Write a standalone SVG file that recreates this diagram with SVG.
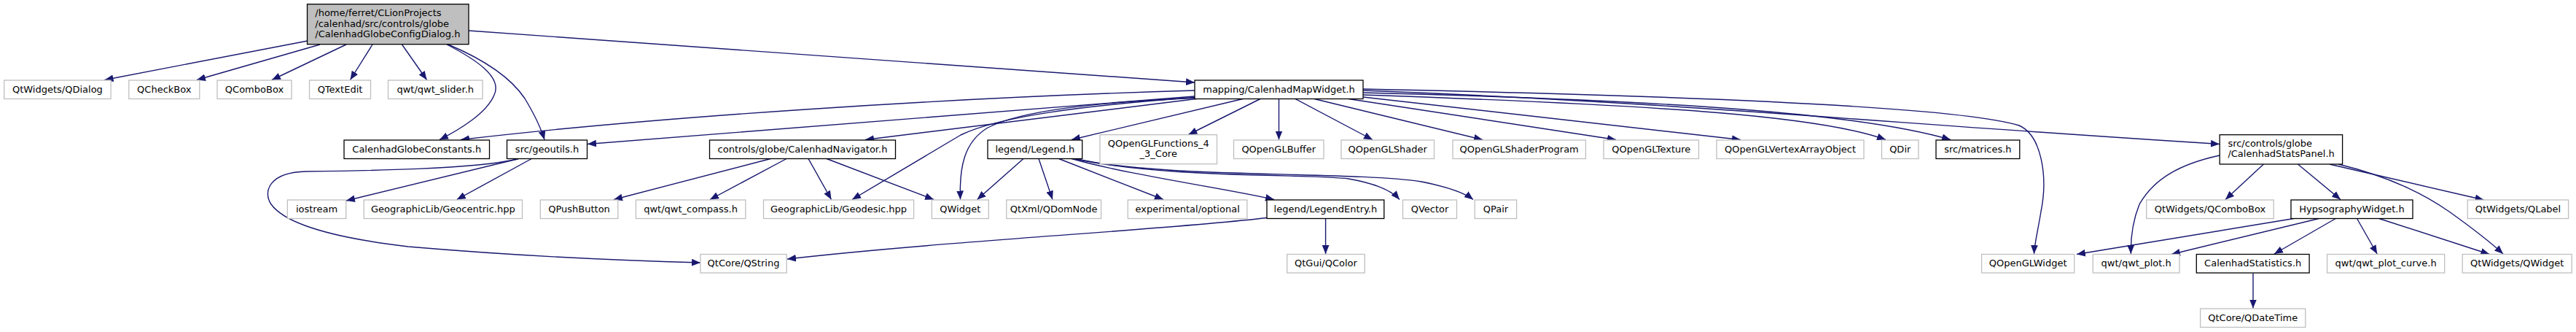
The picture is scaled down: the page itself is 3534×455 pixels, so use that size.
<svg xmlns="http://www.w3.org/2000/svg" width="3534" height="455" viewBox="0 0 3534 455">
<style>
.n rect{fill:#ffffff;stroke:#bfbfbf;stroke-width:1.3}
.d rect{fill:#ffffff;stroke:#000000;stroke-width:1.3}
.r rect{fill:#bfbfbf;stroke:#000000;stroke-width:1.3}
text{font-family:"DejaVu Sans","Liberation Sans",sans-serif;font-size:13px;fill:#000000;text-anchor:middle}
.l text{text-anchor:start}
#edges path{fill:none;stroke:#191970;stroke-width:1.4;marker-end:url(#arr)}
</style>
<defs>
<marker id="arr" markerUnits="userSpaceOnUse" markerWidth="12" markerHeight="10" viewBox="0 0 11 9" refX="11" refY="4.5" orient="auto">
<path d="M0,0 L11,4.5 L0,9 Z" fill="#191970"/>
</marker>
</defs>
<rect x="0" y="0" width="3534" height="455" fill="#ffffff"/>

<g id="edges">
<path d="M422,56 L143.5,109.5"/>
<path d="M439,61 L270,109.5"/>
<path d="M475,61 L373,109.5"/>
<path d="M511,61 L480.5,109.5"/>
<path d="M551.5,61 L585.5,109.5"/>
<path d="M613,61 C650,80 690,105 678,130 C668,155 630,178 603,191.5"/>
<path d="M615,61 C660,80 700,105 720,135 C735,160 742,175 747,191.5"/>
<path d="M643,42 L1639,113"/>
<path d="M1639,124 C1300,134 900,160 632,191.5"/>
<path d="M1639,132 L806,197.5"/>
<path d="M1645,135 L1187,191.5"/>
<path d="M1645,133 C1480,145 1370,160 1318,185 L1169,273.5"/>
<path d="M1648,134 C1500,140 1400,152 1355,175 C1322,195 1316,230 1317.5,273.5"/>
<path d="M1705,135.5 L1470,191.5"/>
<path d="M1729,135.5 L1630.5,184.5"/>
<path d="M1754.5,135.5 L1754.5,191.5"/>
<path d="M1777,135.5 L1883,191.5"/>
<path d="M1803,135.5 L2034,191.5"/>
<path d="M1850,135.5 L2217,191.5"/>
<path d="M1870,133 L2388,191.5"/>
<path d="M1870,130 C2300,145 2500,160 2587,191.5"/>
<path d="M1870,127 C2300,138 2550,155 2676,191.5"/>
<path d="M1870,124 C2300,140 2600,170 3045,197.5"/>
<path d="M1870,122 C2400,133 2700,150 2770,172 C2800,185 2810,240 2800,290 C2795,320 2791,335 2790.5,348"/>
<path d="M711.7,217.5 L475,275"/>
<path d="M729.3,217.5 L626.7,273.5"/>
<path d="M710,218 C650,232 500,234 420,235 C370,236 360,262 372,280 C390,305 450,325 560,338 C700,350 850,357 961,360"/>
<path d="M1057.3,217.5 L842,273.5"/>
<path d="M1079,217.5 L974,273.5"/>
<path d="M1109,217.5 L1140.5,273.5"/>
<path d="M1134,217.5 L1281,273.5"/>
<path d="M1404,217.5 L1340.6,273.5"/>
<path d="M1425,217.5 L1444,273.5"/>
<path d="M1452.6,217.5 L1596,273.5"/>
<path d="M1470,217.5 C1550,240 1680,258 1748,273.5"/>
<path d="M1476,218 C1600,245 1800,238 1850,245 C1890,252 1910,262 1920,273.5"/>
<path d="M1478,218 C1600,245 1850,234 1950,249 C1990,257 2010,265 2021,273.5"/>
<path d="M1818.6,299.5 L1818.6,348"/>
<path d="M1738,298.5 C1600,315 1300,330 1080,355"/>
<path d="M3105.4,225 L3053,273.5"/>
<path d="M3152.4,225 L3211,273.5"/>
<path d="M3195.7,225 L3407.5,274"/>
<path d="M3208,225 C3270,240 3320,262 3360,290 C3395,315 3420,335 3434,348"/>
<path d="M3045,213 C2990,225 2955,245 2935,280 C2925,305 2923,330 2923.4,348"/>
<path d="M3146.8,299.5 L2849,348.5"/>
<path d="M3181.4,299.5 L2979,348.5"/>
<path d="M3204.3,299.5 L3120,348"/>
<path d="M3233.5,299.5 L3261.2,348"/>
<path d="M3263.8,299.5 L3415.4,348.5"/>
<path d="M3091,374.5 L3091,422.5"/>
</g>

<g id="root" class="r l"><rect x="421.5" y="5.7" width="221.5" height="55"/>
<text x="432.3" y="22.3">/home/ferret/CLionProjects</text>
<text x="432.3" y="36.8">/calenhad/src/controls/globe</text>
<text x="432.3" y="51.3">/CalenhadGlobeConfigDialog.h</text></g>

<g id="n_qdialog" class="n"><rect x="5.7" y="110" width="146.4" height="25.5"/><text x="78.9" y="126.7">QtWidgets/QDialog</text></g>
<g id="n_qcheckbox" class="n"><rect x="176.8" y="110" width="97" height="25.5"/><text x="225.3" y="126.7">QCheckBox</text></g>
<g id="n_qcombobox" class="n"><rect x="298" y="110" width="102" height="25.5"/><text x="349" y="126.7">QComboBox</text></g>
<g id="n_qtextedit" class="n"><rect x="424.5" y="110" width="84" height="25.5"/><text x="466.5" y="126.7">QTextEdit</text></g>
<g id="n_qwtslider" class="n"><rect x="532.5" y="110" width="129.5" height="25.5"/><text x="597.25" y="126.7">qwt/qwt_slider.h</text></g>
<g id="n_mapwidget" class="d"><rect x="1639" y="110" width="231" height="25.5"/><text x="1754.5" y="126.7">mapping/CalenhadMapWidget.h</text></g>

<g id="n_constants" class="d"><rect x="472" y="192" width="199.5" height="25.5"/><text x="571.75" y="208.7">CalenhadGlobeConstants.h</text></g>
<g id="n_geoutils" class="d"><rect x="695.5" y="192" width="110" height="25.5"/><text x="750.5" y="208.7">src/geoutils.h</text></g>
<g id="n_navigator" class="d"><rect x="973.5" y="192" width="255" height="25.5"/><text x="1101" y="208.7">controls/globe/CalenhadNavigator.h</text></g>
<g id="n_legend" class="d"><rect x="1355" y="192" width="129.7" height="25.5"/><text x="1419.85" y="208.7">legend/Legend.h</text></g>
<g id="n_glfunctions" class="n"><rect x="1509" y="184.7" width="160.5" height="40"/><text x="1589.25" y="201">QOpenGLFunctions_4</text><text x="1589.25" y="215.4">_3_Core</text></g>
<g id="n_glbuffer" class="n"><rect x="1692.5" y="192" width="123.5" height="25.5"/><text x="1754.25" y="208.7">QOpenGLBuffer</text></g>
<g id="n_glshader" class="n"><rect x="1840" y="192" width="127.5" height="25.5"/><text x="1903.75" y="208.7">QOpenGLShader</text></g>
<g id="n_glshaderprogram" class="n"><rect x="1993" y="192" width="182.4" height="25.5"/><text x="2084.2" y="208.7">QOpenGLShaderProgram</text></g>
<g id="n_gltexture" class="n"><rect x="2200" y="192" width="130.5" height="25.5"/><text x="2265.25" y="208.7">QOpenGLTexture</text></g>
<g id="n_glvao" class="n"><rect x="2355" y="192" width="202" height="25.5"/><text x="2456" y="208.7">QOpenGLVertexArrayObject</text></g>
<g id="n_qdir" class="n"><rect x="2581.5" y="192" width="50.5" height="25.5"/><text x="2606.75" y="208.7">QDir</text></g>
<g id="n_matrices" class="d"><rect x="2656" y="192" width="114.8" height="25.5"/><text x="2713.4" y="208.7">src/matrices.h</text></g>
<g id="n_statspanel" class="d l"><rect x="3045.2" y="184.7" width="168.4" height="40.3"/><text x="3056.4" y="201">src/controls/globe</text><text x="3056.4" y="215.4">/CalenhadStatsPanel.h</text></g>

<g id="n_iostream" class="n"><rect x="394.3" y="274" width="80.4" height="25.5"/><text x="434.5" y="290.7">iostream</text></g>
<g id="n_geocentric" class="n"><rect x="499.2" y="274" width="217.3" height="25.5"/><text x="607.85" y="290.7">GeographicLib/Geocentric.hpp</text></g>
<g id="n_qpushbutton" class="n"><rect x="741.3" y="274" width="106.5" height="25.5"/><text x="794.55" y="290.7">QPushButton</text></g>
<g id="n_qwtcompass" class="n"><rect x="872.4" y="274" width="150.4" height="25.5"/><text x="947.6" y="290.7">qwt/qwt_compass.h</text></g>
<g id="n_geodesic" class="n"><rect x="1047.5" y="274" width="206.1" height="25.5"/><text x="1150.55" y="290.7">GeographicLib/Geodesic.hpp</text></g>
<g id="n_qwidget" class="n"><rect x="1278.3" y="274" width="78" height="25.5"/><text x="1317.3" y="290.7">QWidget</text></g>
<g id="n_qdomnode" class="n"><rect x="1380.8" y="274" width="129.8" height="25.5"/><text x="1445.7" y="290.7">QtXml/QDomNode</text></g>
<g id="n_optional" class="n"><rect x="1547.3" y="274" width="163.6" height="25.5"/><text x="1629.1" y="290.7">experimental/optional</text></g>
<g id="n_legendentry" class="d"><rect x="1738" y="274" width="160.8" height="25.5"/><text x="1818.4" y="290.7">legend/LegendEntry.h</text></g>
<g id="n_qvector" class="n"><rect x="1924.5" y="274" width="74" height="25.5"/><text x="1961.5" y="290.7">QVector</text></g>
<g id="n_qpair" class="n"><rect x="2023.2" y="274" width="57.4" height="25.5"/><text x="2051.9" y="290.7">QPair</text></g>
<g id="n_qtcombobox" class="n"><rect x="2944.7" y="274" width="174.5" height="25.5"/><text x="3031.95" y="290.7">QtWidgets/QComboBox</text></g>
<g id="n_hypso" class="d"><rect x="3143" y="274" width="167" height="25.5"/><text x="3226.5" y="290.7">HypsographyWidget.h</text></g>
<g id="n_qlabel" class="n"><rect x="3385.3" y="274" width="138.3" height="25.5"/><text x="3454.45" y="290.7">QtWidgets/QLabel</text></g>

<g id="n_qstring" class="n"><rect x="960.9" y="348.5" width="118.2" height="25.5"/><text x="1020" y="365.2">QtCore/QString</text></g>
<g id="n_qcolor" class="n"><rect x="1765.7" y="348.5" width="106.5" height="25.5"/><text x="1818.95" y="365.2">QtGui/QColor</text></g>
<g id="n_glwidget" class="n"><rect x="2718.6" y="348.5" width="127.1" height="25.5"/><text x="2782.15" y="365.2">QOpenGLWidget</text></g>
<g id="n_qwtplot" class="n"><rect x="2871.3" y="348.5" width="118.7" height="25.5"/><text x="2930.65" y="365.2">qwt/qwt_plot.h</text></g>
<g id="n_statistics" class="d"><rect x="3013.3" y="348.5" width="154.8" height="25.5"/><text x="3090.7" y="365.2">CalenhadStatistics.h</text></g>
<g id="n_qwtplotcurve" class="n"><rect x="3192.6" y="348.5" width="161.1" height="25.5"/><text x="3273.15" y="365.2">qwt/qwt_plot_curve.h</text></g>
<g id="n_qtqwidget" class="n"><rect x="3378.2" y="348.5" width="150" height="25.5"/><text x="3453.2" y="365.2">QtWidgets/QWidget</text></g>

<g id="n_qdatetime" class="n"><rect x="3018.6" y="423" width="144.2" height="25.5"/><text x="3090.7" y="439.7">QtCore/QDateTime</text></g>
</svg>
